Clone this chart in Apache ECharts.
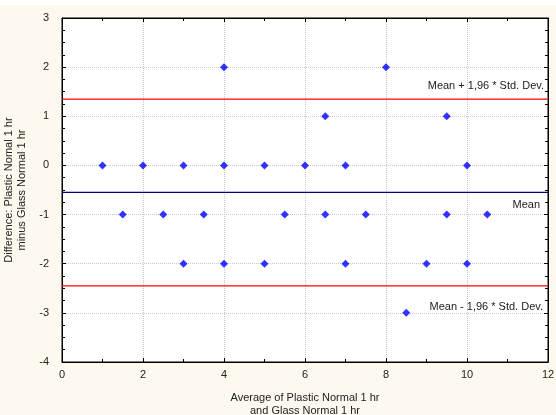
<!DOCTYPE html>
<html>
<head>
<meta charset="utf-8">
<script src="https://cdn.jsdelivr.net/npm/echarts@6/dist/echarts.min.js"></script>
<style>
  html, body { margin: 0; padding: 0; background: #fdf9ee; }
  #chart { width: 556px; height: 415px; }
</style>
</head>
<body>
<div id="chart"></div>
<script>
// Bland-Altman: average (x) vs difference (y)
const avgValues = [4, 8, 6.5, 9.5, 1, 2, 3, 4, 5, 6, 7, 10,
                   1.5, 2.5, 3.5, 5.5, 6.5, 7.5, 9.5, 10.5,
                   3, 4, 5, 7, 9, 10, 8.5];
const diffValues = [2, 2, 1, 1, 0, 0, 0, 0, 0, 0, 0, 0,
                    -1, -1, -1, -1, -1, -1, -1, -1,
                    -2, -2, -2, -2, -2, -2, -3];
const meanDiff = -0.55;
const upperLimit = 1.35;
const lowerLimit = -2.45;
const xRange = [0, 12];

const points = avgValues.map((x, i) => [x, diffValues[i]]);
const font = 'Liberation Sans, Arial, sans-serif';

// horizontal reference line drawn as a 2-point line series, label at right end
function limitLine(value, color, text, dx, dy) {
    return {
        type: 'line',
        symbol: 'circle', symbolSize: 0, showSymbol: true,
        silent: true, z: 1,
        lineStyle: { color: color, width: 1.2 },
        itemStyle: { color: color },
        data: [
            { value: [xRange[0], value] },
            { value: [xRange[1], value],
              label: { show: true, formatter: text, position: 'inside', align: 'right',
                       verticalAlign: 'middle', offset: [dx, dy],
                       fontSize: 11, color: '#222', fontFamily: font } }
        ]
    };
}

const chart = echarts.init(document.getElementById('chart'));
chart.setOption({
    backgroundColor: '#fdf9ee',
    animation: false,
    textStyle: { fontFamily: font },
    grid: {
        left: 62, right: 8, top: 18, bottom: 53,
        outerBoundsMode: 'none', containLabel: false,
        show: true, backgroundColor: '#ffffff', borderColor: '#000', borderWidth: 1
    },
    xAxis: [{
        type: 'value', min: 0, max: 12, interval: 2,
        name: 'Average of Plastic Normal 1 hr\nand Glass Normal 1 hr',
        nameLocation: 'middle', nameGap: 29,
        nameTextStyle: { fontSize: 11, color: '#222', lineHeight: 13, fontFamily: font },
        axisLine: { onZero: false, lineStyle: { color: '#000' } },
        axisTick: { inside: true, length: 4, lineStyle: { color: '#000' } },
        minorTick: { show: true, splitNumber: 2, length: 3, lineStyle: { color: '#000' } },
        axisLabel: { fontSize: 11, color: '#222', margin: 7, fontFamily: font },
        splitLine: { show: true, lineStyle: { color: '#c8c8c8', type: 'dotted' } }
    }, {
        type: 'value', min: 0, max: 12, interval: 2, position: 'top',
        axisLine: { onZero: false, lineStyle: { color: '#000' } },
        axisTick: { inside: true, length: 4, lineStyle: { color: '#000' } },
        minorTick: { show: true, splitNumber: 2, length: 3, lineStyle: { color: '#000' } },
        axisLabel: { show: false },
        splitLine: { show: false }
    }],
    yAxis: [{
        type: 'value', min: -4, max: 3, interval: 1,
        name: 'Difference: Plastic Nomal 1 hr\nminus Glass Normal 1 hr',
        nameLocation: 'middle', nameGap: 30,
        nameTextStyle: { fontSize: 11, color: '#222', lineHeight: 13, fontFamily: font },
        axisLine: { onZero: false, lineStyle: { color: '#000' } },
        axisTick: { inside: true, length: 4, lineStyle: { color: '#000' } },
        minorTick: { show: true, splitNumber: 4, length: 3, lineStyle: { color: '#000' } },
        axisLabel: { fontSize: 11, color: '#222', margin: 13, fontFamily: font },
        splitLine: { show: true, lineStyle: { color: '#c8c8c8', type: 'dotted' } }
    }, {
        type: 'value', min: -4, max: 3, interval: 1, position: 'right',
        axisLine: { onZero: false, lineStyle: { color: '#000' } },
        axisTick: { inside: true, length: 4, lineStyle: { color: '#000' } },
        minorTick: { show: true, splitNumber: 4, length: 3, lineStyle: { color: '#000' } },
        axisLabel: { show: false },
        splitLine: { show: false }
    }],
    graphic: [{
        type: 'rect', left: 0, top: 0,
        shape: { width: 556, height: 5 },
        style: { fill: '#ffffff' }
    }],
    series: [
        limitLine(upperLimit, '#ff0000', 'Mean + 1,96 * Std. Dev.', -4, -13),
        limitLine(meanDiff, '#000080', 'Mean', -8, 13),
        limitLine(lowerLimit, '#ff0000', 'Mean - 1,96 * Std. Dev.', -5, 21),
        {
            type: 'scatter',
            data: points,
            symbol: 'diamond',
            symbolSize: 8,
            z: 3,
            itemStyle: { color: '#0000ff' }
        }
    ]
});
</script>
</body>
</html>
